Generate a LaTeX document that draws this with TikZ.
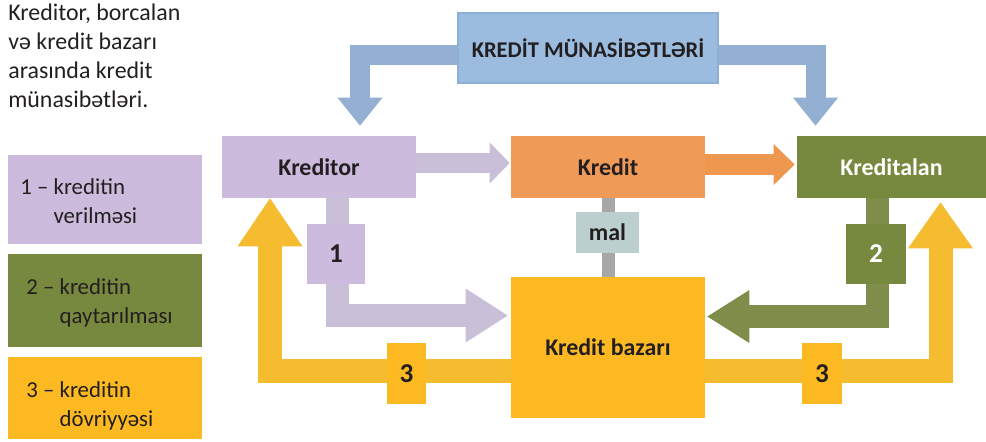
\documentclass[tikz,border=0pt]{standalone}
\usepackage{fontspec}
\setmainfont{Carlito}
\usepackage{xcolor}
\usepackage{tikz}
\usetikzlibrary{arrows.meta,positioning,calc,backgrounds}
\definecolor{lilac}{HTML}{CCBBDD}
\definecolor{lilacarrow}{HTML}{C9BFD9}
\definecolor{peach}{HTML}{EF9A57}
\definecolor{peacharrow}{HTML}{EE974F}
\definecolor{moss}{HTML}{77883F}
\definecolor{mossarrow}{HTML}{7F8D4A}
\definecolor{amber}{HTML}{FDB922}
\definecolor{amberarrow}{HTML}{F5BC2F}
\definecolor{sky}{HTML}{9BBCDF}
\definecolor{skyline}{HTML}{8DAFD5}
\definecolor{skyarrow}{HTML}{93B0D3}
\definecolor{slate}{HTML}{BCCFCF}
\definecolor{pipe}{HTML}{A7A7AA}
\definecolor{ink}{HTML}{231F20}
\tikzset{
  partybox/.style={
    rectangle, fill=#1, inner sep=0pt,
    minimum width=3.88cm, minimum height=1.24cm,
    font=\fontsize{13.6}{16}\selectfont\bfseries, text=ink
  },
  partybox/.default=lilac,
  numbox/.style={
    rectangle, fill=#1, inner sep=0pt,
    font=\fontsize{15.5}{18}\selectfont\bfseries, text=ink
  },
  legendbox/.style={rectangle, fill=#1, inner sep=0pt, minimum width=3.88cm},
  legendtext/.style={anchor=west, inner sep=0pt, align=left, text=ink,
    font=\fontsize{13}{16.5}\selectfont},
  bandarrow/.style={draw=#1, line join=miter, line cap=butt},
}

\begin{document}
\begin{tikzpicture}[x=0.02cm, y=-0.02cm]
    \useasboundingbox (0,0) rectangle (986,441);
    % caption and legend
    \node[legendtext, anchor=north west, font=\fontsize{13.6}{16.5}\selectfont] (intro) at (8,4)
      {Kreditor, borcalan\\və kredit bazarı\\arasında kredit\\münasibətləri.};
    \node[legendbox=lilac, minimum height=1.78cm] (leg1) at (105,199.5) {};
    \node[legendbox=moss, minimum height=1.86cm] (leg2) at (105,300.5) {};
    \node[legendbox=amber, minimum height=1.64cm] (leg3) at (105,398) {};
    \node[legendtext] (legtext1) at (20,201) {1 – kreditin\\\phantom{1 – }verilməsi};
    \node[legendtext] (legtext2) at (26,303) {2 – kreditin\\\phantom{2 – }qaytarılması};
    \node[legendtext] (legtext3) at (26,406) {3 – kreditin\\\phantom{3 – }dövriyyəsi};
    % main boxes
    \node[rectangle, fill=sky, draw=skyline, line width=1pt, minimum width=5.2cm,
      minimum height=1.4cm, font=\fontsize{12.8}{15}\selectfont\bfseries, text=ink]
      (title) at (588,48) {KREDİT MÜNASİBƏTLƏRİ};
    \node[partybox] (kreditor) at (319,167) {Kreditor};
    \node[partybox=peach] (kredit) at (608,167) {Kredit};
    \node[partybox=moss, minimum width=3.78cm, text=white] (kreditalan) at (891.5,167) {Kreditalan};
    \node[partybox=amber, minimum height=2.82cm] (bazar) at (608,347.5) {Kredit bazarı};
    \node[numbox=slate, minimum width=1.26cm, minimum height=0.82cm,
      font=\fontsize{13.6}{16}\selectfont\bfseries] (mal) at (607.5,232.5) {mal};
    \node[numbox=lilac, minimum width=1.16cm, minimum height=1.2cm] (num1) at (336,254) {1};
    \node[numbox=moss, minimum width=1.2cm, minimum height=1.2cm, text=white] (num2) at (876,254) {2};
    \node[numbox=amber, minimum width=0.78cm, minimum height=1.22cm] (num3a) at (406.5,373.5) {3};
    \node[numbox=amber, minimum width=0.8cm, minimum height=1.22cm] (num3b) at (822,373.5) {3};
    % block arrows
    \begin{pgfonlayer}{background}
      \draw[bandarrow=skyarrow, line width=0.4cm, shorten >=0.2cm,
        -{Triangle[length=0.56cm, width=0.9cm, line width=0pt]}]
        ([yshift=-0.13cm]title.west) -| ([xshift=0.82cm]kreditor.north);
      \draw[bandarrow=skyarrow, line width=0.4cm, shorten >=0.2cm,
        -{Triangle[length=0.56cm, width=0.9cm, line width=0pt]}]
        ([yshift=-0.13cm]title.east) -| ([xshift=-1.52cm]kreditalan.north);
      \draw[bandarrow=lilacarrow, line width=0.4cm, shorten >=0.02cm,
        -{Triangle[length=0.4cm, width=0.82cm, line width=0pt]}]
        ([yshift=0.08cm]kreditor.east) -- ([yshift=0.08cm]kredit.west);
      \draw[bandarrow=peacharrow, line width=0.42cm, shorten >=0.04cm,
        -{Triangle[length=0.42cm, width=0.82cm, line width=0pt]}]
        ([yshift=0.05cm]kredit.east) -- ([yshift=0.05cm]kreditalan.west);
      \draw[pipe, line width=0.26cm] (kredit.south) -- (bazar.north);
      \draw[bandarrow=lilacarrow, line width=0.46cm, shorten >=0.06cm,
        -{Triangle[length=0.84cm, width=1.08cm, line width=0pt]}]
        ([xshift=0.37cm]kreditor.south) |- ([yshift=0.64cm]bazar.west);
      \draw[bandarrow=mossarrow, line width=0.46cm, shorten >=0.04cm,
        -{Triangle[length=0.84cm, width=1.06cm, line width=0pt]}]
        ([xshift=-0.29cm]kreditalan.south) |- ([yshift=0.62cm]bazar.east);
      \draw[bandarrow=amberarrow, line width=0.48cm,
        -{Triangle[length=0.96cm, width=1.3cm, line width=0pt]}]
        ([yshift=-0.47cm]bazar.west) -| ([xshift=-0.98cm]kreditor.south);
      \draw[bandarrow=amberarrow, line width=0.48cm, shorten >=0.08cm,
        -{Triangle[length=0.92cm, width=1.3cm, line width=0pt]}]
        ([yshift=-0.47cm]bazar.east) -| ([xshift=0.98cm]kreditalan.south);
    \end{pgfonlayer}
\end{tikzpicture}
\end{document}
